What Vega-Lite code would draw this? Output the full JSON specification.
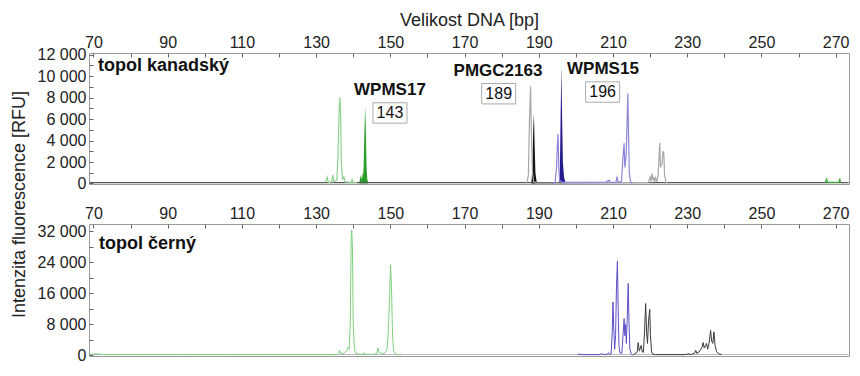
{
  "$schema": "https://vega.github.io/schema/vega-lite/v6.json",
  "padding": {"left": 9, "top": 10, "right": 5, "bottom": 5},
  "background": "white",
  "config": {
    "font": "Liberation Sans",
    "view": {"stroke": "#9a9a9a", "strokeWidth": 1},
    "axis": {"domain": false, "grid": false, "labelFont": "Liberation Sans", "labelFontSize": 16, "labelColor": "#222", "tickColor": "#666", "tickSize": -4, "labelPadding": 7, "titleFont": "Liberation Sans", "titleFontSize": 18, "titleFontWeight": "normal", "titleColor": "#222"}
  },
  "datasets": {
    "top": [
      {"s":"n","bp":69,"rfu":70},{"s":"n","bp":100,"rfu":80},{"s":"n","bp":140,"rfu":70},{"s":"n","bp":180,"rfu":80},{"s":"n","bp":220,"rfu":70},{"s":"n","bp":273.5,"rfu":80},
      {"s":"g","bp":132.5,"rfu":100},{"s":"g","bp":133.0,"rfu":580},{"s":"g","bp":133.3,"rfu":100},{"s":"g","bp":134.2,"rfu":150},{"s":"g","bp":134.5,"rfu":790},{"s":"g","bp":134.8,"rfu":150},{"s":"g","bp":135.6,"rfu":300},{"s":"g","bp":135.9,"rfu":2500},{"s":"g","bp":136.2,"rfu":7000},{"s":"g","bp":136.4,"rfu":8000},{"s":"g","bp":136.6,"rfu":6500},{"s":"g","bp":136.8,"rfu":2000},{"s":"g","bp":137.1,"rfu":400},{"s":"g","bp":137.5,"rfu":600},{"s":"g","bp":137.8,"rfu":150},{"s":"g","bp":139.5,"rfu":100},{"s":"g","bp":139.7,"rfu":400},{"s":"g","bp":139.9,"rfu":100},{"s":"g","bp":141,"rfu":100},
      {"s":"gs","bp":267.2,"rfu":80},{"s":"gs","bp":267.6,"rfu":400},{"s":"gs","bp":267.8,"rfu":100},{"s":"gs","bp":270.9,"rfu":100},{"s":"gs","bp":271.1,"rfu":450},{"s":"gs","bp":271.3,"rfu":80},
      {"s":"G","bp":141.6,"rfu":0},{"s":"G","bp":142.0,"rfu":790},{"s":"G","bp":142.2,"rfu":300},{"s":"G","bp":142.4,"rfu":1000},{"s":"G","bp":142.6,"rfu":500},{"s":"G","bp":142.8,"rfu":1500},{"s":"G","bp":143.0,"rfu":4500},{"s":"G","bp":143.2,"rfu":7200},{"s":"G","bp":143.4,"rfu":5000},{"s":"G","bp":143.6,"rfu":1500},{"s":"G","bp":143.8,"rfu":400},{"s":"G","bp":144.1,"rfu":0},
      {"s":"k","bp":186.8,"rfu":0},{"s":"k","bp":187.2,"rfu":800},{"s":"k","bp":187.5,"rfu":6000},{"s":"k","bp":187.8,"rfu":9070},{"s":"k","bp":188.0,"rfu":5000},{"s":"k","bp":188.3,"rfu":1000},{"s":"k","bp":188.6,"rfu":200},{"s":"k","bp":189.5,"rfu":0},{"s":"k","bp":219.5,"rfu":100},{"s":"k","bp":220.0,"rfu":600},{"s":"k","bp":220.3,"rfu":200},{"s":"k","bp":220.5,"rfu":930},{"s":"k","bp":220.8,"rfu":300},{"s":"k","bp":221.0,"rfu":600},{"s":"k","bp":221.2,"rfu":150},{"s":"k","bp":221.5,"rfu":500},{"s":"k","bp":221.8,"rfu":150},{"s":"k","bp":222.2,"rfu":900},{"s":"k","bp":222.4,"rfu":2500},{"s":"k","bp":222.6,"rfu":3800},{"s":"k","bp":222.8,"rfu":1500},{"s":"k","bp":223.2,"rfu":1800},{"s":"k","bp":223.5,"rfu":3000},{"s":"k","bp":223.7,"rfu":2800},{"s":"k","bp":223.9,"rfu":800},{"s":"k","bp":224.3,"rfu":100},{"s":"k","bp":225,"rfu":0},
      {"s":"K","bp":188.0,"rfu":0},{"s":"K","bp":188.3,"rfu":1500},{"s":"K","bp":188.5,"rfu":5000},{"s":"K","bp":188.7,"rfu":6500},{"s":"K","bp":188.9,"rfu":3500},{"s":"K","bp":189.1,"rfu":1000},{"s":"K","bp":189.4,"rfu":200},{"s":"K","bp":189.8,"rfu":0},
      {"s":"b","bp":193.5,"rfu":0},{"s":"b","bp":194.4,"rfu":100},{"s":"b","bp":194.8,"rfu":1500},{"s":"b","bp":195.0,"rfu":3500},{"s":"b","bp":195.2,"rfu":4600},{"s":"b","bp":195.4,"rfu":1500},{"s":"b","bp":195.6,"rfu":300},{"s":"b","bp":196.5,"rfu":100},{"s":"b","bp":208,"rfu":100},{"s":"b","bp":209,"rfu":300},{"s":"b","bp":209.2,"rfu":100},{"s":"b","bp":210.8,"rfu":100},{"s":"b","bp":211.1,"rfu":630},{"s":"b","bp":211.4,"rfu":100},{"s":"b","bp":212.3,"rfu":200},{"s":"b","bp":212.7,"rfu":2500},{"s":"b","bp":213.0,"rfu":3740},{"s":"b","bp":213.2,"rfu":1500},{"s":"b","bp":213.4,"rfu":2000},{"s":"b","bp":213.6,"rfu":3100},{"s":"b","bp":213.75,"rfu":5000},{"s":"b","bp":214.0,"rfu":8390},{"s":"b","bp":214.2,"rfu":4500},{"s":"b","bp":214.4,"rfu":1000},{"s":"b","bp":214.7,"rfu":200},{"s":"b","bp":215.2,"rfu":0},
      {"s":"B","bp":195.5,"rfu":0},{"s":"B","bp":195.7,"rfu":1500},{"s":"B","bp":195.9,"rfu":6500},{"s":"B","bp":196.1,"rfu":11020},{"s":"B","bp":196.3,"rfu":6000},{"s":"B","bp":196.5,"rfu":2000},{"s":"B","bp":196.8,"rfu":600},{"s":"B","bp":197.2,"rfu":100},{"s":"B","bp":197.6,"rfu":0}
    ],
    "bottom": [
      {"s":"n2","bp":69,"rfu":120},{"s":"n2","bp":273.5,"rfu":120},
      {"s":"g2","bp":69,"rfu":150},{"s":"g2","bp":71,"rfu":300},{"s":"g2","bp":72.5,"rfu":150},{"s":"g2","bp":135.5,"rfu":100},{"s":"g2","bp":136.1,"rfu":500},{"s":"g2","bp":136.3,"rfu":1200},{"s":"g2","bp":136.5,"rfu":500},{"s":"g2","bp":137.5,"rfu":400},{"s":"g2","bp":138.3,"rfu":1200},{"s":"g2","bp":138.6,"rfu":2000},{"s":"g2","bp":138.9,"rfu":1500},{"s":"g2","bp":139.2,"rfu":8000},{"s":"g2","bp":139.45,"rfu":30000},{"s":"g2","bp":139.6,"rfu":32300},{"s":"g2","bp":139.8,"rfu":27000},{"s":"g2","bp":140.0,"rfu":8000},{"s":"g2","bp":140.3,"rfu":2000},{"s":"g2","bp":140.6,"rfu":500},{"s":"g2","bp":141.5,"rfu":200},{"s":"g2","bp":142.8,"rfu":200},{"s":"g2","bp":143.0,"rfu":600},{"s":"g2","bp":143.2,"rfu":200},{"s":"g2","bp":145.5,"rfu":150},{"s":"g2","bp":146.4,"rfu":500},{"s":"g2","bp":146.7,"rfu":1800},{"s":"g2","bp":147.0,"rfu":600},{"s":"g2","bp":148.3,"rfu":300},{"s":"g2","bp":148.7,"rfu":800},{"s":"g2","bp":149.1,"rfu":1500},{"s":"g2","bp":149.4,"rfu":5000},{"s":"g2","bp":149.8,"rfu":15000},{"s":"g2","bp":150.05,"rfu":23300},{"s":"g2","bp":150.3,"rfu":18000},{"s":"g2","bp":150.6,"rfu":5000},{"s":"g2","bp":150.9,"rfu":1000},{"s":"g2","bp":151.3,"rfu":300},{"s":"g2","bp":152,"rfu":100},{"s":"g2","bp":153,"rfu":100},
      {"s":"b2","bp":200.5,"rfu":100},{"s":"b2","bp":201,"rfu":250},{"s":"b2","bp":201.5,"rfu":100},{"s":"b2","bp":206.5,"rfu":100},{"s":"b2","bp":207,"rfu":400},{"s":"b2","bp":207.3,"rfu":100},{"s":"b2","bp":208.5,"rfu":200},{"s":"b2","bp":208.8,"rfu":600},{"s":"b2","bp":209.1,"rfu":200},{"s":"b2","bp":209.5,"rfu":300},{"s":"b2","bp":209.8,"rfu":6000},{"s":"b2","bp":210.0,"rfu":13700},{"s":"b2","bp":210.2,"rfu":7000},{"s":"b2","bp":210.45,"rfu":1500},{"s":"b2","bp":210.7,"rfu":5000},{"s":"b2","bp":210.95,"rfu":18000},{"s":"b2","bp":211.2,"rfu":24250},{"s":"b2","bp":211.4,"rfu":12000},{"s":"b2","bp":211.6,"rfu":2500},{"s":"b2","bp":211.9,"rfu":500},{"s":"b2","bp":212.4,"rfu":500},{"s":"b2","bp":212.7,"rfu":5000},{"s":"b2","bp":213.0,"rfu":9400},{"s":"b2","bp":213.2,"rfu":5000},{"s":"b2","bp":213.4,"rfu":7900},{"s":"b2","bp":213.6,"rfu":3000},{"s":"b2","bp":213.85,"rfu":10000},{"s":"b2","bp":214.1,"rfu":18500},{"s":"b2","bp":214.3,"rfu":9000},{"s":"b2","bp":214.55,"rfu":1500},{"s":"b2","bp":214.9,"rfu":300},{"s":"b2","bp":215.3,"rfu":0},
      {"s":"k2","bp":215.5,"rfu":100},{"s":"k2","bp":216.5,"rfu":700},{"s":"k2","bp":216.8,"rfu":3200},{"s":"k2","bp":217.1,"rfu":1000},{"s":"k2","bp":217.6,"rfu":2500},{"s":"k2","bp":217.9,"rfu":800},{"s":"k2","bp":218.2,"rfu":700},{"s":"k2","bp":218.5,"rfu":6000},{"s":"k2","bp":218.8,"rfu":13300},{"s":"k2","bp":219.05,"rfu":6000},{"s":"k2","bp":219.3,"rfu":3000},{"s":"k2","bp":219.6,"rfu":9000},{"s":"k2","bp":219.9,"rfu":11800},{"s":"k2","bp":220.1,"rfu":5000},{"s":"k2","bp":220.4,"rfu":800},{"s":"k2","bp":220.8,"rfu":200},{"s":"k2","bp":221.5,"rfu":100},{"s":"k2","bp":229.5,"rfu":100},{"s":"k2","bp":230.5,"rfu":300},{"s":"k2","bp":231,"rfu":100},{"s":"k2","bp":232.0,"rfu":500},{"s":"k2","bp":232.3,"rfu":1200},{"s":"k2","bp":232.6,"rfu":400},{"s":"k2","bp":233.2,"rfu":800},{"s":"k2","bp":234.0,"rfu":2000},{"s":"k2","bp":234.3,"rfu":3200},{"s":"k2","bp":234.6,"rfu":1800},{"s":"k2","bp":235.0,"rfu":2500},{"s":"k2","bp":235.2,"rfu":3000},{"s":"k2","bp":235.5,"rfu":1500},{"s":"k2","bp":235.9,"rfu":3000},{"s":"k2","bp":236.3,"rfu":6370},{"s":"k2","bp":236.6,"rfu":3500},{"s":"k2","bp":236.9,"rfu":3000},{"s":"k2","bp":237.2,"rfu":6000},{"s":"k2","bp":237.5,"rfu":2500},{"s":"k2","bp":237.9,"rfu":900},{"s":"k2","bp":238.5,"rfu":300},{"s":"k2","bp":239.3,"rfu":100}
    ],
    "markers": [
      {"name":"WPMS17","bp":149.9,"rfu":8754},
      {"name":"PMGC2163","bp":179.0,"rfu":10452},
      {"name":"WPMS15","bp":207.3,"rfu":10675}
    ],
    "boxes": [
      {"num":"143","bp":149.9,"rfu":6573},
      {"num":"189","bp":179.2,"rfu":8364},
      {"num":"196","bp":207.2,"rfu":8522}
    ],
    "ptop": [{"t":"topol kanadský","bp":71.2,"rfu":10916}],
    "pbot": [{"t":"topol černý","bp":71.5,"rfu":28570}]
  },
  "resolve": {"scale": {"color": "independent", "x": "independent", "y": "independent"}},
  "spacing": 40,
  "bounds": "flush",
  "vconcat": [
    {
      "width": 760,
      "height": 131,
      "encoding": {
        "x": {"field": "bp", "type": "quantitative", "scale": {"domain": [68.8, 273.6], "nice": false, "zero": false},
              "axis": {"orient": "top", "title": "Velikost DNA [bp]", "titlePadding": 5, "values": [70,80,90,100,110,120,130,140,150,160,170,180,190,200,210,220,230,240,250,260,270], "labelExpr": "datum.value % 20 == 10 ? datum.label : ''"}},
        "y": {"field": "rfu", "type": "quantitative", "stack": null, "scale": {"domain": [-50, 12160], "nice": false, "zero": false},
              "axis": {"title": "Intenzita fluorescence [RFU]", "titleY": 151, "titlePadding": 9, "values": [0,1000,2000,3000,4000,5000,6000,7000,8000,9000,10000,11000,12000], "labelExpr": "datum.value % 2000 == 0 ? replace(format(datum.value, ','), ',', ' ') : ''"}}
      },
      "layer": [
        {
          "data": {"name": "top"},
          "transform": [{"filter": "datum.s == 'G' || datum.s == 'K' || datum.s == 'B'"}],
          "mark": {"type": "area", "clip": true},
          "encoding": {
            "color": {"field": "s", "type": "nominal", "legend": null, "scale": {"domain": ["n","g","gs","G","k","K","b","B"], "range": ["#555555","#8fd18f","#3aa83a","#2a9d2a","#a8a8a8","#141414","#8c86d8","#251a8c"]}}
          }
        },
        {
          "data": {"name": "top"},
          "transform": [{"filter": "datum.s != 'G' && datum.s != 'K' && datum.s != 'B'"}],
          "mark": {"type": "line", "strokeWidth": 1.2, "clip": true},
          "encoding": {
            "color": {"field": "s", "type": "nominal", "legend": null}
          }
        },
        {
          "data": {"name": "ptop"},
          "mark": {"type": "text", "align": "left", "baseline": "middle", "fontSize": 18, "fontWeight": "bold", "color": "#111"},
          "encoding": {"text": {"field": "t"}}
        },
        {
          "data": {"name": "markers"},
          "mark": {"type": "text", "align": "center", "baseline": "middle", "fontSize": 17, "fontWeight": "bold", "color": "#111"},
          "encoding": {"text": {"field": "name"}}
        },
        {
          "data": {"name": "boxes"},
          "mark": {"type": "point", "shape": "M-1,-0.6L1,-0.6L1,0.6L-1,0.6Z", "size": 1156, "filled": true, "fill": "white", "stroke": "#aaaaaa", "strokeWidth": 1, "opacity": 1},
          "encoding": {}
        },
        {
          "data": {"name": "boxes"},
          "mark": {"type": "text", "align": "center", "baseline": "middle", "fontSize": 16, "color": "#111"},
          "encoding": {"text": {"field": "num"}}
        }
      ]
    },
    {
      "width": 760,
      "height": 132,
      "encoding": {
        "x": {"field": "bp", "type": "quantitative", "scale": {"domain": [68.8, 273.6], "nice": false, "zero": false},
              "axis": {"orient": "top", "title": null, "values": [70,80,90,100,110,120,130,140,150,160,170,180,190,200,210,220,230,240,250,260,270], "labelExpr": "datum.value % 20 == 10 ? datum.label : ''"}},
        "y": {"field": "rfu", "type": "quantitative", "stack": null, "scale": {"domain": [-258, 33858], "nice": false, "zero": false},
              "axis": {"title": null, "values": [0,4000,8000,12000,16000,20000,24000,28000,32000], "labelExpr": "datum.value % 8000 == 0 ? replace(format(datum.value, ','), ',', ' ') : ''"}}
      },
      "layer": [
        {
          "data": {"name": "bottom"},
          "mark": {"type": "line", "strokeWidth": 1, "clip": true},
          "encoding": {
            "color": {"field": "s", "type": "nominal", "legend": null, "scale": {"domain": ["n2","g2","b2","k2"], "range": ["#b8b8c4","#7fcf7f","#5a4fc8","#3a3a3a"]}}
          }
        },
        {
          "data": {"name": "pbot"},
          "mark": {"type": "text", "align": "left", "baseline": "middle", "fontSize": 18, "fontWeight": "bold", "color": "#111"},
          "encoding": {"text": {"field": "t"}}
        }
      ]
    }
  ]
}
